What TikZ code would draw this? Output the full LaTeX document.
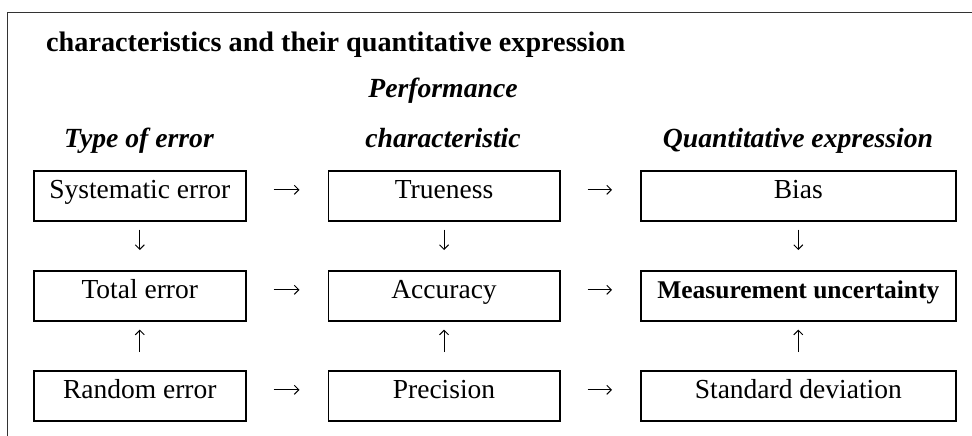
\documentclass[tikz,border=0pt]{standalone}
\usepackage{fontspec}
\setmainfont{Liberation Serif}
\usetikzlibrary{arrows.meta}

\begin{document}
\begin{tikzpicture}[x=1pt, y=-1pt,
  every node/.style={inner sep=0pt, font=\fontsize{27.5}{30}\selectfont},
  cell/.style={draw, line width=1.6pt, anchor=north west,
    text height=28pt, text depth=22pt, align=center},
  head/.style={anchor=base, font=\fontsize{27.7}{30}\selectfont\bfseries\itshape},
  flow/.style={line width=1pt, -{Straight Barb[length=4.5pt,width=9pt,line width=1pt]}},
  hflow/.style={flow, shorten <=27pt, shorten >=28pt},
  dflow/.style={flow, shorten <=8pt, shorten >=20pt},
  uflow/.style={flow, shorten <=18pt, shorten >=8pt}
]
\useasboundingbox (0,0) rectangle (972,436);

% outer frame (top and left edges)
\draw[line width=1pt, black!80] (7,436) -- (7,13) -- (972,13);

% title and column headings
\node[anchor=base west, font=\fontsize{28.2}{30}\selectfont\bfseries] (title) at (46,52)
  {characteristics and their quantitative expression};
\node[head] (h2a) at (443,98) {Performance};
\node[head] (h1) at (139,147) {Type of error};
\node[head] (h2b) at (443,147) {characteristic};
\node[head] (h3) at (798,147) {Quantitative expression};

% column 1: type of error
\node[cell, minimum width=212pt] (sys) at (33,170) {Systematic error};
\node[cell, minimum width=212pt] (tot) at (33,270) {Total error};
\node[cell, minimum width=212pt] (rnd) at (33,370) {Random error};

% column 2: performance characteristic
\node[cell, minimum width=231.5pt] (tru) at (327.5,170) {Trueness};
\node[cell, minimum width=231.5pt] (acc) at (327.5,270) {Accuracy};
\node[cell, minimum width=231.5pt] (pre) at (327.5,370) {Precision};

% column 3: quantitative expression
\node[cell, minimum width=315pt] (bias) at (640,170) {Bias};
\node[cell, minimum width=315pt, font=\fontsize{25.5}{28}\selectfont\bfseries] (mu) at (640,270) {Measurement uncertainty};
\node[cell, minimum width=315pt] (sd) at (640,370) {Standard deviation};

% horizontal links
\foreach \a/\b in {sys/tru, tru/bias, tot/acc, acc/mu, rnd/pre, pre/sd}
  \draw[hflow] ([yshift=6pt]\a.east) -- ([yshift=6pt]\b.west);

% vertical links
\foreach \a/\b in {sys/tot, tru/acc, bias/mu}
  \draw[dflow] (\a.south) -- (\b.north);
\foreach \a/\b in {rnd/tot, pre/acc, sd/mu}
  \draw[uflow] (\a.north) -- (\b.south);
\end{tikzpicture}
\end{document}
